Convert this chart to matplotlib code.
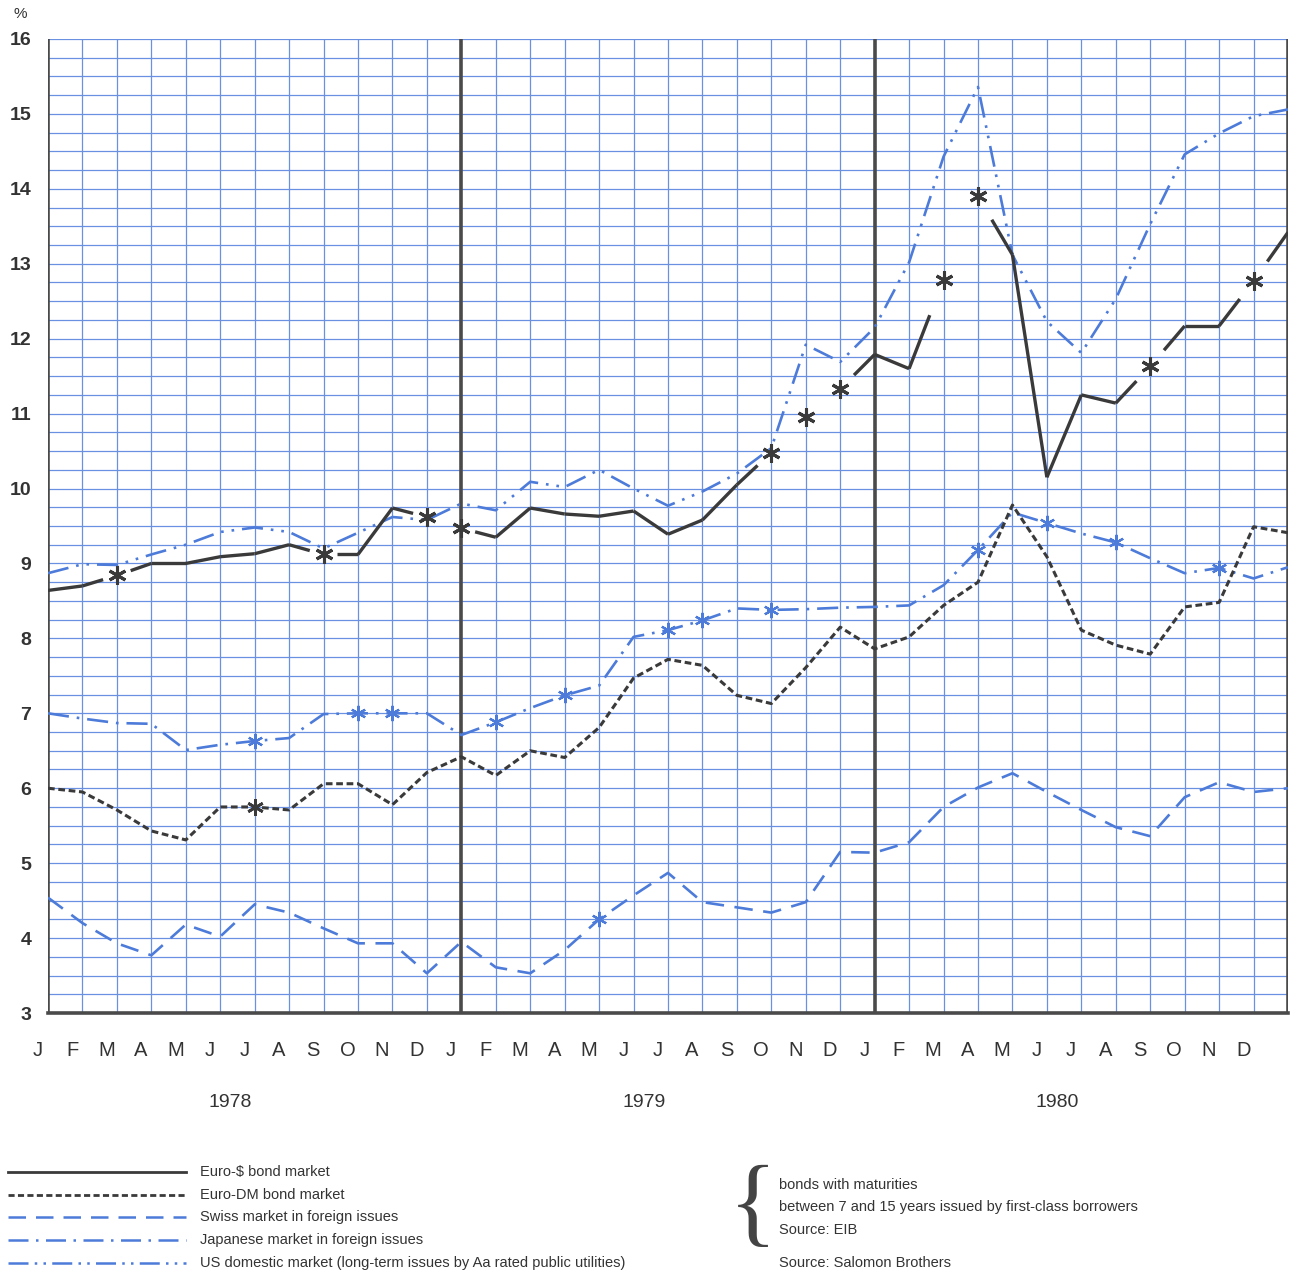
import numpy as np
import matplotlib
matplotlib.use("Agg")
import matplotlib.pyplot as plt
from matplotlib.lines import Line2D

plt.rcParams["font.family"] = ["Liberation Sans", "DejaVu Sans"]

# monthly yields, Jan 1978 .. Jan 1981 (%)
months = list("JFMAMJJASOND") * 3
years = ["1978", "1979", "1980"]

euro_usd = [8.64, 8.70, 8.84, 9.00, 9.00, 9.09, 9.13, 9.25, 9.12, 9.12, 9.74, 9.62,
            9.47, 9.35, 9.74, 9.66, 9.63, 9.70, 9.39, 9.58, 10.05, 10.48, 10.96, 11.33,
            11.79, 11.60, 12.79, 13.90, 13.12, 10.15, 11.25, 11.14, 11.63, 12.17, 12.17, 12.77,
            13.42]
euro_dm = [6.00, 5.95, 5.71, 5.43, 5.31, 5.75, 5.75, 5.71, 6.06, 6.06, 5.78, 6.21,
           6.42, 6.17, 6.50, 6.41, 6.81, 7.47, 7.72, 7.64, 7.24, 7.13, 7.61, 8.15,
           7.86, 8.02, 8.44, 8.75, 9.78, 9.09, 8.11, 7.91, 7.79, 8.42, 8.48, 9.49,
           9.41]
swiss = [4.54, 4.20, 3.93, 3.77, 4.18, 4.02, 4.45, 4.34, 4.13, 3.93, 3.93, 3.53,
         3.95, 3.61, 3.53, 3.84, 4.25, 4.57, 4.87, 4.48, 4.41, 4.34, 4.48, 5.15,
         5.14, 5.28, 5.75, 6.01, 6.20, 5.95, 5.71, 5.48, 5.36, 5.88, 6.08, 5.95,
         6.00]
japan = [7.00, 6.93, 6.87, 6.86, 6.51, 6.58, 6.63, 6.67, 6.99, 7.00, 7.00, 7.00,
         6.71, 6.88, 7.07, 7.24, 7.37, 8.02, 8.11, 8.24, 8.40, 8.38, 8.39, 8.41,
         8.42, 8.44, 8.71, 9.18, 9.68, 9.54, 9.40, 9.28, 9.07, 8.87, 8.94, 8.80,
         8.95]
us = [8.87, 8.99, 8.98, 9.12, 9.25, 9.42, 9.48, 9.42, 9.20, 9.41, 9.62, 9.58,
      9.80, 9.71, 10.09, 10.02, 10.25, 10.00, 9.77, 9.96, 10.20, 10.54, 11.92, 11.69,
      12.15, 13.02, 14.43, 15.36, 13.12, 12.23, 11.81, 12.53, 13.53, 14.46, 14.74, 14.97,
      15.06]

# months marked with an asterisk
usd_stars = [2, 8, 11, 12, 21, 22, 23, 26, 27, 32, 35]
dm_stars = [6]
swiss_stars = [16]
japan_stars = [6, 9, 10, 13, 15, 18, 19, 21, 27, 29, 31, 34]

BLUE = "#4d7bd9"
GRID = "#6a90e2"
DARK = "#3a3a3a"
TXT = "#333333"

x = np.arange(len(euro_usd))

fig = plt.figure(figsize=(12.93, 12.72), dpi=100)
ax = fig.add_axes([48 / 1293, 1 - 1013 / 1272, 1240 / 1293, 974 / 1272])
ax.set_xlim(0, 36)
ax.set_ylim(3, 16)

# graph paper
for v in np.arange(3, 16.01, 0.25):
    ax.axhline(v, color=GRID, lw=0.9, zorder=0)
for m in range(37):
    if m % 12 == 0:
        ax.axvline(m, color="#4a4a4a", lw=2.6, zorder=1)
    else:
        ax.axvline(m, color=GRID, lw=0.9, zorder=0)

for s in ["top", "left", "right"]:
    ax.spines[s].set_visible(False)
ax.spines["bottom"].set_color("#4a4a4a")
ax.spines["bottom"].set_linewidth(2.6)

ax.set_yticks(range(3, 17))
ax.set_yticklabels([str(v) for v in range(3, 17)], fontsize=14, color=TXT,
                   fontweight="bold")
ax.tick_params(axis="y", length=0, pad=12)
ax.set_xticks([])

# month letters and years
for i, m in enumerate(months):
    ax.text(i - 0.3, 2.5, m, ha="center", va="center", fontsize=14.5, color=TXT)
for k, yr in enumerate(years):
    ax.text(12 * k + 5.3, 1.8, yr, ha="center", va="center", fontsize=14, color=TXT)
ax.text(-0.8, 16.33, "%", ha="center", va="center", fontsize=11, color=TXT)

# Euro-$ line: broken around the asterisk months
gap = 0.4
for i in range(len(x) - 1):
    a, b = i in usd_stars, i + 1 in usd_stars
    if a and b:
        continue
    t0 = gap if a else 0.0
    t1 = 1 - gap if b else 1.0
    x0 = x[i] + t0 * (x[i + 1] - x[i])
    x1 = x[i] + t1 * (x[i + 1] - x[i])
    y0 = euro_usd[i] + t0 * (euro_usd[i + 1] - euro_usd[i])
    y1 = euro_usd[i] + t1 * (euro_usd[i + 1] - euro_usd[i])
    ax.plot([x0, x1], [y0, y1], color=DARK, lw=2.4, solid_capstyle="butt", zorder=4)
ax.plot(x[usd_stars], np.array(euro_usd)[usd_stars], ls="none", marker=(6, 2, 0),
        ms=13, mew=2.2, color=DARK, zorder=5)

ax.plot(x, euro_dm, color=DARK, lw=2.2, dashes=(2.2, 1.2), zorder=4)
ax.plot(x[dm_stars], np.array(euro_dm)[dm_stars], ls="none", marker=(6, 2, 0),
        ms=12, mew=2, color=DARK, zorder=5)

ax.plot(x, swiss, color=BLUE, lw=1.9, dashes=(7, 4), zorder=3)
ax.plot(x[swiss_stars], np.array(swiss)[swiss_stars], ls="none", marker=(6, 2, 0),
        ms=11, mew=1.6, color=BLUE, zorder=5)

ax.plot(x, japan, color=BLUE, lw=1.9, dashes=(8, 3, 1, 3), zorder=3)
ax.plot(x[japan_stars], np.array(japan)[japan_stars], ls="none", marker=(6, 2, 0),
        ms=11, mew=1.6, color=BLUE, zorder=5)

ax.plot(x, us, color=BLUE, lw=1.9, dashes=(8, 3, 1, 3, 1, 3), zorder=3)

# legend, drawn by hand
legend = [
    ("Euro-$ bond market", DARK, None, 2.0),
    ("Euro-DM bond market", DARK, (2.2, 1.2), 2.0),
    ("Swiss market in foreign issues", BLUE, (7, 4), 1.8),
    ("Japanese market in foreign issues", BLUE, (8, 3, 1, 3), 1.8),
    ("US domestic market (long-term issues by Aa rated public utilities)", BLUE,
     (8, 2.5, 1, 2.5, 1, 2.5), 1.8),
]
for k, (name, col, dash, lw) in enumerate(legend):
    yy = 1 - (1172 + 22.7 * k) / 1272
    ln = Line2D([8 / 1293, 186 / 1293], [yy, yy], transform=fig.transFigure,
                color=col, lw=lw)
    if dash is not None:
        ln.set_dashes(dash)
    fig.add_artist(ln)
    fig.text(200 / 1293, yy, name, ha="left", va="center", fontsize=10.5, color=TXT)

fig.text(777 / 1293, 1 - 1210 / 1272, "{", ha="right", va="center", fontsize=72,
         family="Liberation Serif", color="#444444")
notes = ["bonds with maturities",
         "between 7 and 15 years issued by first-class borrowers",
         "Source: EIB"]
for k, t in enumerate(notes):
    fig.text(779 / 1293, 1 - (1185 + 22.5 * k) / 1272, t, ha="left", va="center",
             fontsize=10.5, color=TXT)
fig.text(779 / 1293, 1 - 1263 / 1272, "Source: Salomon Brothers", ha="left",
         va="center", fontsize=10.5, color=TXT)

fig.savefig("out.png", dpi=100, facecolor="white")
